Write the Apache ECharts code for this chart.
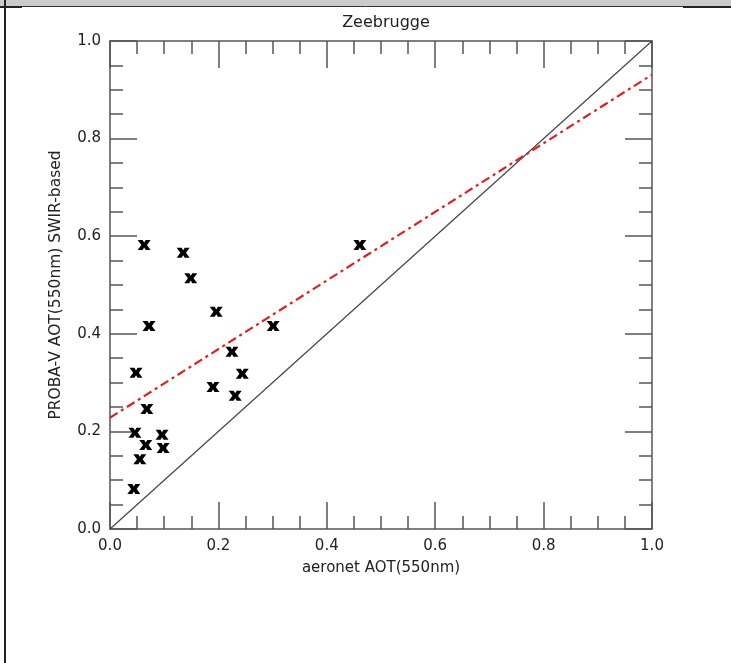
<!DOCTYPE html>
<html>
<head>
<meta charset="utf-8">
<script src="https://cdn.jsdelivr.net/npm/echarts@6/dist/echarts.min.js"></script>
<style>html,body{margin:0;padding:0;background:#fff}#c{width:731px;height:663px}</style>
</head>
<body>
<div id="c"></div>
<script>
const titleText = 'Zeebrugge';
const xName = 'aeronet AOT(550nm)';
const yName = 'PROBA-V AOT(550nm) SWIR-based';
const aeronetX = [0.044,0.055,0.046,0.066,0.068,0.096,0.098,0.048,0.072,0.063,0.135,0.149,0.196,0.190,0.225,0.231,0.244,0.301,0.461];
const probaY   = [0.082,0.143,0.197,0.172,0.246,0.193,0.166,0.320,0.416,0.582,0.566,0.514,0.445,0.291,0.363,0.273,0.318,0.416,0.582];
const oneToOne = [[0,0],[1,1]];
const fitLine  = [[0,0.228],[1,0.931]];
const tickLabels = ['0.0','0.2','0.4','0.6','0.8','1.0'];

const chart = echarts.init(document.getElementById('c'), null, {renderer:'canvas'});
const font = 'DejaVu Sans';
const axisCol = '#555';
const fmt = v => { const i = Math.round(v*5); return tickLabels[i] !== undefined ? tickLabels[i] : ''; };
function axisBase(extra){
  return Object.assign({
    type:'value', min:0, max:1, interval:0.2,
    axisLine:{show:true, onZero:false, lineStyle:{color:axisCol, width:1.5}},
    axisTick:{show:true, inside:true, length:27, lineStyle:{color:axisCol, width:1.5}},
    minorTick:{show:true, splitNumber:4, length:13, lineStyle:{color:axisCol, width:1.5}},
    splitLine:{show:false}, minorSplitLine:{show:false}
  }, extra);
}
const pts = aeronetX.map((x,i)=>[x, probaY[i]]);
const xSym = 'path://M0,0 H4.6 L6,2.3 L7.4,0 H12 L8.6,4.5 L12,9 H7.4 L6,6.7 L4.6,9 H0 L3.4,4.5 Z';

chart.setOption({
  animation:false,
  backgroundColor:'#fff',
  title:{text:titleText, left:381, textAlign:'center', top:10,
    textStyle:{fontFamily:font, fontSize:16, fontWeight:'normal', color:'#222'}},
  grid:{left:110, right:79, top:41, bottom:134},
  xAxis:[
    axisBase({position:'bottom', name:xName, nameLocation:'middle', nameGap:32,
      nameTextStyle:{fontFamily:font, fontSize:15, color:'#222'},
      axisLabel:{show:true, margin:10, fontFamily:font, fontSize:15, color:'#222', formatter:fmt}}),
    axisBase({position:'top', axisLabel:{show:false}})
  ],
  yAxis:[
    axisBase({position:'left', name:yName, nameLocation:'middle', nameGap:46,
      nameTextStyle:{fontFamily:font, fontSize:15.5, color:'#222'},
      axisLabel:{show:true, margin:9, padding:[6,0,0,0], fontFamily:font, fontSize:15, color:'#222', formatter:fmt}}),
    axisBase({position:'right', axisLabel:{show:false}})
  ],
  series:[
    {type:'line', data:oneToOne, symbol:'none', silent:true,
      lineStyle:{color:'#444', width:1.2}},
    {type:'line', data:fitLine, symbol:'none', silent:true,
      lineStyle:{color:'#e0201b', width:2.2, type:[9,4,3,4]}},
    {type:'scatter', data:pts, symbol:xSym, symbolSize:[13,10],
      itemStyle:{color:'#000', opacity:1}}
  ],
  graphic:[
    {type:'rect', shape:{x:0,y:0,width:731,height:6}, style:{fill:'#cbcbcb'}, silent:true},
    {type:'line', shape:{x1:0,y1:6.5,x2:731,y2:6.5}, style:{stroke:'#333', lineWidth:1}, silent:true},
    {type:'line', shape:{x1:683,y1:7,x2:731,y2:7}, style:{stroke:'#222', lineWidth:2}, silent:true},
    {type:'line', shape:{x1:0,y1:7,x2:22,y2:7}, style:{stroke:'#222', lineWidth:2}, silent:true},
    {type:'line', shape:{x1:5,y1:0,x2:5,y2:663}, style:{stroke:'#222', lineWidth:2}, silent:true}
  ]
});
</script>
</body>
</html>
